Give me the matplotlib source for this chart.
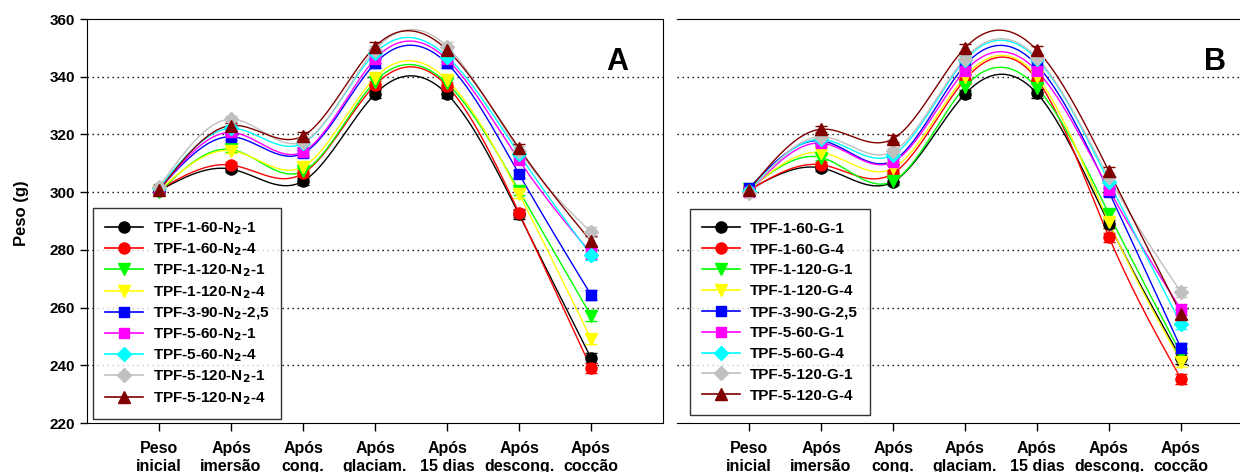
import numpy as np
import matplotlib
matplotlib.use('Agg')
from matplotlib import pyplot as plt
from matplotlib.lines import Line2D

plt.rcParams['font.family'] = ['Liberation Sans', 'DejaVu Sans']
plt.rcParams['font.weight'] = 'bold'
plt.rcParams['mathtext.default'] = 'bf'

categories = ['Peso\ninicial', 'Após\nimersão', 'Após\ncong.', 'Após\nglaciam.',
              'Após\n15 dias', 'Após\ndescong.', 'Após\ncocção']

labels_A = ['TPF-1-60-N$_2$-1', 'TPF-1-60-N$_2$-4', 'TPF-1-120-N$_2$-1', 'TPF-1-120-N$_2$-4',
            'TPF-3-90-N$_2$-2,5', 'TPF-5-60-N$_2$-1', 'TPF-5-60-N$_2$-4',
            'TPF-5-120-N$_2$-1', 'TPF-5-120-N$_2$-4']
labels_B = ['TPF-1-60-G-1', 'TPF-1-60-G-4', 'TPF-1-120-G-1', 'TPF-1-120-G-4',
            'TPF-3-90-G-2,5', 'TPF-5-60-G-1', 'TPF-5-60-G-4',
            'TPF-5-120-G-1', 'TPF-5-120-G-4']

# pesos (g) por etapa, painel A (N2)
a_1_60_1 = [300.5, 308.0, 303.8, 334.0, 334.0, 292.3, 242.5]
a_1_60_4 = [300.8, 309.4, 306.5, 337.1, 336.8, 292.8, 239.1]
a_1_120_1 = [300.0, 314.8, 307.2, 338.3, 337.7, 300.5, 257.2]
a_1_120_4 = [300.6, 314.4, 308.8, 339.7, 338.9, 299.4, 249.1]
a_3_90_25 = [301.0, 319.2, 313.5, 344.6, 344.6, 306.3, 264.4]
a_5_60_1 = [300.7, 320.7, 314.0, 346.1, 346.0, 311.1, 278.8]
a_5_60_4 = [301.6, 322.1, 317.0, 348.1, 347.0, 313.2, 278.2]
a_5_120_1 = [301.8, 325.3, 317.5, 349.3, 350.4, 314.4, 286.1]
a_5_120_4 = [300.6, 323.1, 319.5, 350.4, 349.3, 315.2, 283.0]

# painel B (glaciamento)
b_1_60_1 = [300.8, 308.4, 303.6, 334.0, 334.2, 289.0, 242.4]
b_1_60_4 = [300.6, 309.5, 306.5, 339.0, 339.0, 284.4, 235.3]
b_1_120_1 = [301.0, 312.0, 303.8, 336.5, 336.2, 292.4, 244.0]
b_1_120_4 = [300.8, 313.7, 308.3, 340.0, 340.0, 289.5, 241.3]
b_3_90_25 = [301.5, 317.8, 310.9, 344.0, 344.0, 300.0, 245.9]
b_5_60_1 = [300.0, 317.0, 310.5, 342.0, 342.0, 300.9, 259.3]
b_5_60_4 = [300.5, 318.3, 313.0, 345.8, 346.0, 303.4, 254.3]
b_5_120_1 = [299.8, 319.2, 314.1, 346.3, 346.5, 305.1, 265.3]
b_5_120_4 = [300.8, 321.8, 318.5, 350.0, 349.2, 307.2, 257.8]

err = [0.6, 1.0, 1.2, 1.5, 1.5, 1.5, 1.8]

series_A = [a_1_60_1, a_1_60_4, a_1_120_1, a_1_120_4, a_3_90_25, a_5_60_1, a_5_60_4, a_5_120_1, a_5_120_4]
series_B = [b_1_60_1, b_1_60_4, b_1_120_1, b_1_120_4, b_3_90_25, b_5_60_1, b_5_60_4, b_5_120_1, b_5_120_4]

colors = ['black', '#FF0000', '#00FF00', '#FFFF00', '#0000FF', '#FF00FF', '#00FFFF', '#C0C0C0', '#800000']
markers = ['o', 'o', 'v', 'v', 's', 's', 'D', 'D', '^']
msizes = [8, 8, 8, 8, 7, 7, 7, 7, 8]


def spline(x, y, n=300):
    # spline cubica natural
    x = np.asarray(x, float)
    y = np.asarray(y, float)
    h = np.diff(x)
    nn = len(x)
    A = np.zeros((nn, nn))
    b = np.zeros(nn)
    A[0, 0] = A[-1, -1] = 1
    for i in range(1, nn - 1):
        A[i, i - 1] = h[i - 1]
        A[i, i] = 2 * (h[i - 1] + h[i])
        A[i, i + 1] = h[i]
        b[i] = 3 * ((y[i + 1] - y[i]) / h[i] - (y[i] - y[i - 1]) / h[i - 1])
    c = np.linalg.solve(A, b)
    xs = np.linspace(x[0], x[-1], n)
    idx = np.clip(np.searchsorted(x, xs) - 1, 0, nn - 2)
    dx = xs - x[idx]
    bb = (y[1:] - y[:-1]) / h - h * (2 * c[:-1] + c[1:]) / 3
    d = (c[1:] - c[:-1]) / (3 * h)
    ys = y[idx] + bb[idx] * dx + c[idx] * dx ** 2 + d[idx] * dx ** 3
    return xs, ys


fig = plt.figure(figsize=(12.4, 4.72), dpi=100)
axA = fig.add_axes([0.0702, 0.1038, 0.4645, 0.8559])
axB = fig.add_axes([0.546, 0.1038, 0.4645, 0.8559])

x = np.arange(len(categories))

for ax, series, labels, letter in [(axA, series_A, labels_A, 'A'), (axB, series_B, labels_B, 'B')]:
    for yy in [240, 260, 280, 300, 320, 340]:
        ax.axhline(yy, color='black', lw=1, ls=(0, (1, 2.6)), zorder=0)
    handles = []
    for vals, c, m, ms, lab in zip(series, colors, markers, msizes, labels):
        xs, ys = spline(x, vals)
        ax.plot(xs, ys, color=c, lw=1, zorder=2)
        ax.errorbar(x, vals, yerr=err, fmt=m, color=c, ms=ms, mec=c, capsize=4,
                    elinewidth=1, capthick=1, zorder=3)
        handles.append(Line2D([], [], color=c, lw=1.2, marker=m, ms=ms, mec=c))
    ax.set_xlim(-1, 7)
    ax.set_ylim(220, 360)
    ax.set_xticks(x)
    ax.set_xticklabels(categories, fontsize=11.5, fontweight='bold', linespacing=1.25)
    ax.tick_params(axis='x', length=6, width=1, pad=7, direction='out')
    ax.tick_params(axis='y', length=5, width=1, direction='out', labelsize=11)
    ax.text(0.92 if letter == 'A' else 0.934, 0.893, letter, transform=ax.transAxes,
            fontsize=22, fontweight='bold', ha='center', va='center')
    anchor = (0.0104, 0.01) if letter == 'A' else (0.0226, 0.02)
    leg = ax.legend(handles, labels, loc='lower left', fontsize=11, frameon=True,
                    fancybox=False, edgecolor='black', handlelength=2.5,
                    labelspacing=0.3 if letter == 'A' else 0.45,
                    borderpad=0.8, handletextpad=0.6,
                    borderaxespad=0, bbox_to_anchor=anchor)
    leg.get_frame().set_linewidth(1)
    for t in leg.get_texts():
        t.set_fontweight('bold')

axA.set_yticks([220, 240, 260, 280, 300, 320, 340, 360])
for lab in axA.get_yticklabels():
    lab.set_fontweight('bold')
axA.set_ylabel('Peso (g)', fontsize=12, fontweight='bold')
axA.yaxis.set_label_coords(-0.10, 0.52)

axB.spines['left'].set_visible(False)
axB.tick_params(axis='y', left=False, labelleft=False)
axB.spines['right'].set_visible(False)

fig.savefig('out.png', dpi=100)
